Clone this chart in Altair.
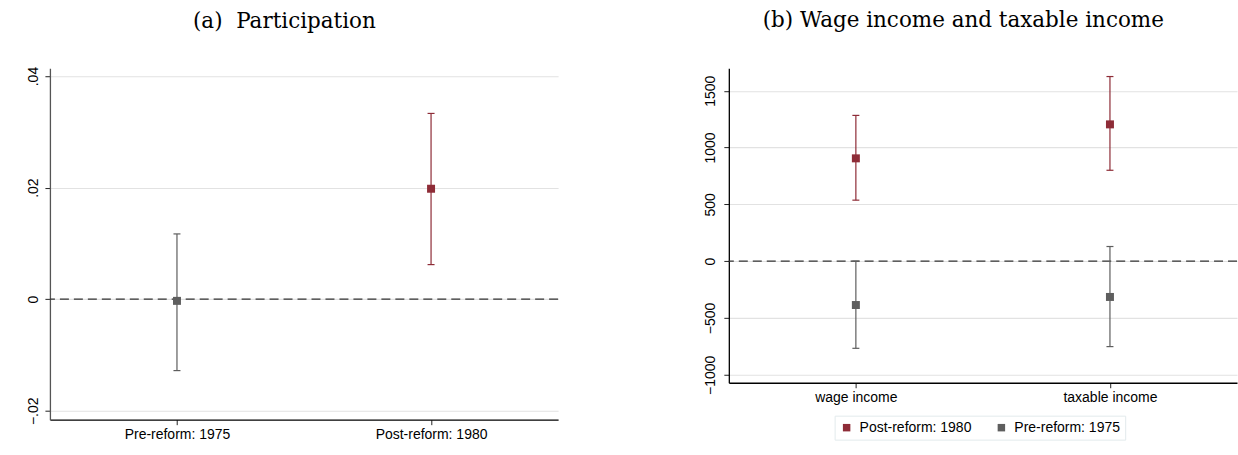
import altair as alt
import pandas as pd

# Panel (a): participation effect, by period
part_period = ["Pre-reform: 1975", "Post-reform: 1980"]
part_est = [-0.0003, 0.0198]
part_lo = [-0.0128, 0.0062]
part_hi = [0.0117, 0.0333]

# Panel (b): wage income and taxable income effects, by period
inc_outcome = ["wage income", "wage income", "taxable income", "taxable income"]
inc_period = ["Post-reform: 1980", "Pre-reform: 1975", "Post-reform: 1980", "Pre-reform: 1975"]
inc_est = [905, -386, 1204, -315]
inc_lo = [537, -767, 800, -752]
inc_hi = [1283, 0, 1625, 129]

outcome_order = ["wage income", "taxable income"]
period_order = ["Post-reform: 1980", "Pre-reform: 1975"]
period_colors = ["#8E2C37", "#5E5E5E"]

part_ticks = [-0.02, 0, 0.02, 0.04]
inc_ticks = [-1000, -500, 0, 500, 1000, 1500]

SANS = "Liberation Sans"
SERIF = "DejaVu Serif"

df_a = pd.DataFrame({"period": part_period, "est": part_est, "lo": part_lo, "hi": part_hi})
df_b = pd.DataFrame({"outcome": inc_outcome, "period": inc_period,
                     "est": inc_est, "lo": inc_lo, "hi": inc_hi})
zero = pd.DataFrame({"y": [0]})


def ci_panel(df, xfield, xorder, ydomain, yaxis, width, height, title, legend, offset):
    x = alt.X(f"{xfield}:N", sort=xorder,
              scale=alt.Scale(type="point", padding=0.5),
              axis=alt.Axis(title=None, labelAngle=0, grid=False, labelPadding=3,
                            domainColor="black"))
    yscale = alt.Scale(domain=ydomain, nice=False, zero=False)
    color = alt.Color("period:N", scale=alt.Scale(domain=period_order, range=period_colors),
                      legend=legend)

    base = alt.Chart(df)
    zero_line = alt.Chart(zero).mark_rule(color="#333333", strokeWidth=1.3,
                                          strokeDash=[9, 5]).encode(
        y=alt.Y("y:Q", scale=yscale, axis=yaxis))
    bar = base.mark_rule(strokeWidth=1.2).encode(
        x=x, y=alt.Y("lo:Q", scale=yscale), y2="hi:Q", color=color)
    cap_lo = base.mark_rule(strokeWidth=1.2, xOffset=-3.5, x2Offset=3.5).encode(
        x=x, x2=f"{xfield}:N", y=alt.Y("lo:Q", scale=yscale), color=color)
    cap_hi = base.mark_rule(strokeWidth=1.2, xOffset=-3.5, x2Offset=3.5).encode(
        x=x, x2=f"{xfield}:N", y=alt.Y("hi:Q", scale=yscale), color=color)
    pts = base.mark_square(size=64, filled=True, opacity=1).encode(
        x=x, y=alt.Y("est:Q", scale=yscale), color=color)

    return alt.layer(zero_line, bar, cap_lo, cap_hi, pts).properties(
        width=width, height=height,
        title=alt.TitleParams(title, font=SERIF, fontSize=21.5, fontWeight="normal",
                              color="black", anchor="middle", frame="bounds",
                              baseline="alphabetic", offset=offset),
    )


axis_a = alt.Axis(title=None, values=part_ticks, grid=True,
                  labelExpr="datum.value == 0 ? '0' : replace(format(datum.value, '.2f'), '0.', '.')",
                  labelAngle=270, labelAlign="center", labelBaseline="bottom",
                  labelPadding=4, domainColor="#555555", minExtent=40, maxExtent=40)
axis_b = alt.Axis(title=None, values=inc_ticks, grid=True, format="d",
                  labelAngle=270, labelAlign="center", labelBaseline="bottom",
                  labelPadding=6, domainColor="black", minExtent=40, maxExtent=40)

legend_b = alt.Legend(title=None, orient="none", legendX=106, legendY=348,
                      direction="horizontal", strokeColor="#E2EAEC", padding=5,
                      labelFont=SANS, labelFontSize=14, labelColor="black",
                      symbolType="square", symbolSize=56, symbolStrokeWidth=0,
                      symbolOpacity=1, labelOffset=6, columnPadding=22)

panel_a = ci_panel(df_a, "period", part_period, [-0.0216, 0.0414], axis_a,
                   509, 352, "(a)\u00a0\u00a0Participation", None, 17)
panel_b = ci_panel(df_b, "outcome", outcome_order, [-1070, 1698], axis_b,
                   509, 315, "(b) Wage income and taxable income", legend_b, 20)

chart = alt.hconcat(panel_a, panel_b, spacing=130).resolve_scale(
    x="independent", y="independent", color="independent"
).resolve_legend(color="independent").properties(
    padding={"left": 10, "top": 9, "right": 0, "bottom": 0},
    background="white",
).configure_axis(
    labelFont=SANS, labelFontSize=14, labelColor="black",
    tickColor="#222222", tickSize=5, domainWidth=1.3,
    gridColor="#E2E2E2", gridWidth=1.1,
).configure_view(strokeWidth=0)

chart.save("out.html", embed_options={"renderer": "svg", "actions": False})
